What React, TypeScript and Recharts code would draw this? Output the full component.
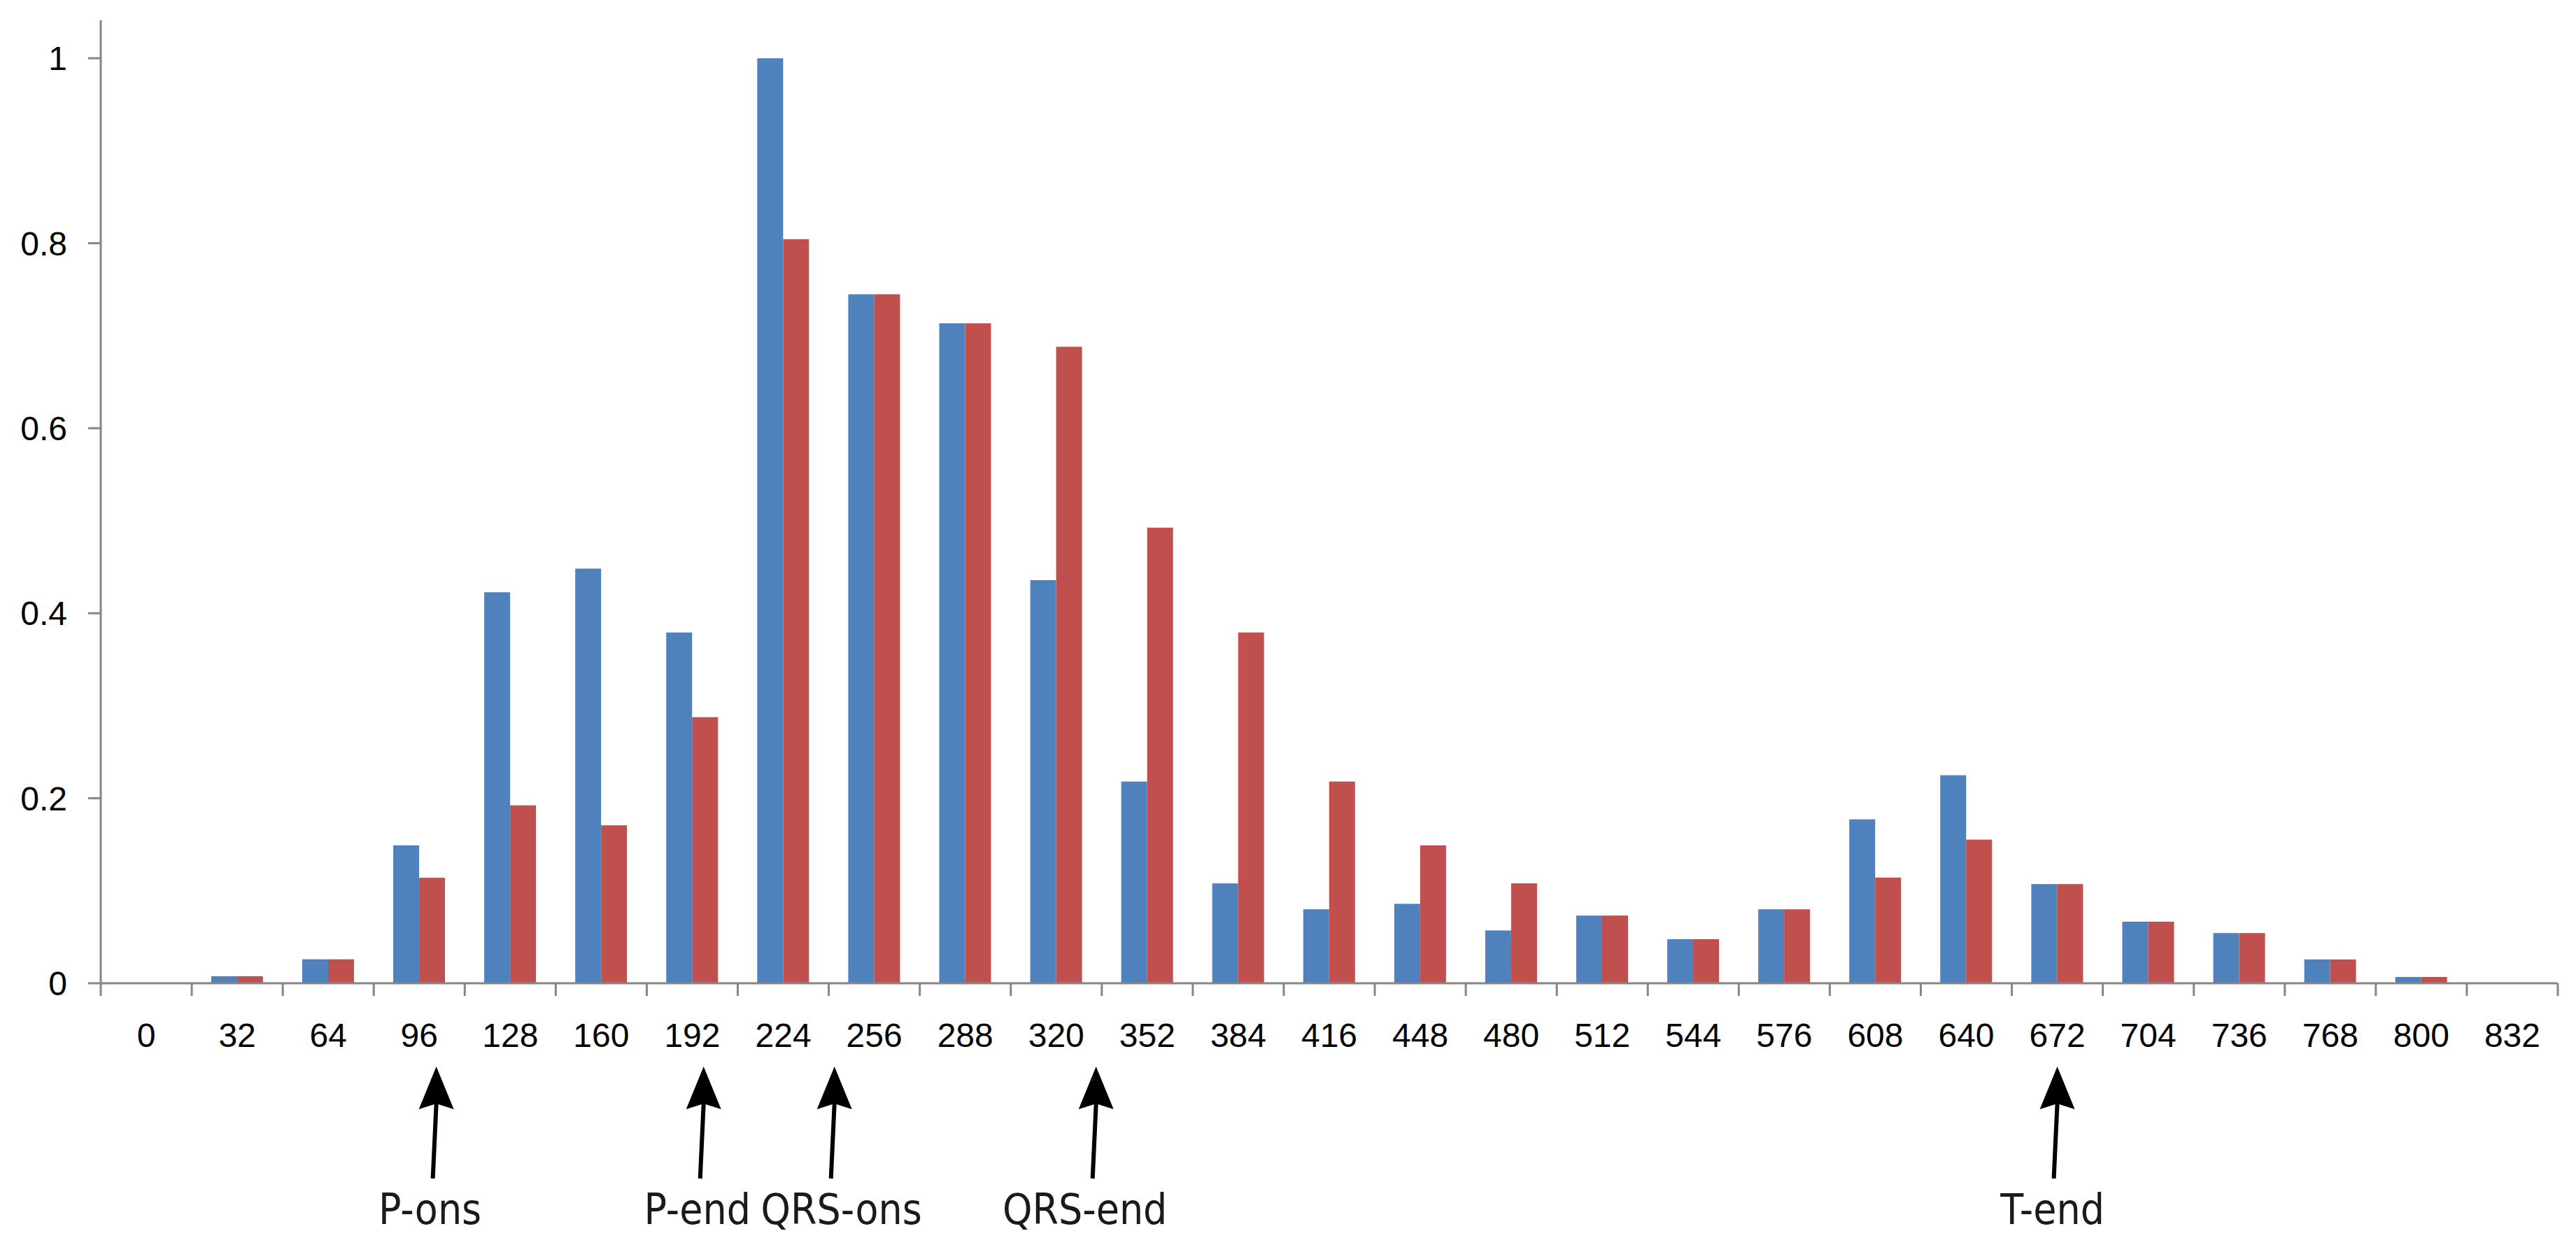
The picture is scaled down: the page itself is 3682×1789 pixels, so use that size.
import React from 'react';
import { BarChart, Bar, XAxis, YAxis, ReferenceDot } from 'recharts';

// ---- data ----
const CATEGORIES = [0, 32, 64, 96, 128, 160, 192, 224, 256, 288, 320, 352, 384, 416, 448, 480, 512, 544, 576, 608, 640, 672, 704, 736, 768, 800, 832];
const SERIES_BLUE = [0, 0.0075, 0.026, 0.149, 0.4227, 0.4483, 0.3793, 1.0, 0.7448, 0.7135, 0.4357, 0.218, 0.108, 0.08, 0.0858, 0.0572, 0.0732, 0.0477, 0.08, 0.1773, 0.2248, 0.1072, 0.0666, 0.0542, 0.0257, 0.0068, 0];
const SERIES_RED = [0, 0.0075, 0.026, 0.114, 0.1924, 0.1707, 0.2877, 0.8043, 0.7448, 0.7135, 0.6881, 0.4926, 0.3792, 0.218, 0.149, 0.108, 0.0732, 0.0477, 0.08, 0.1142, 0.1552, 0.1072, 0.0666, 0.0542, 0.0257, 0.0068, 0];
const Y_TICKS = [0, 0.2, 0.4, 0.6, 0.8, 1];
const MARKER_LABELS = ['P-ons', 'P-end', 'QRS-ons', 'QRS-end', 'T-end'];
const MARKER_MS = [102, 196, 242, 334, 672];

// ---- layout & styles ----
const CHART_W = 3682;
const CHART_H = 1789;
const Y_AXIS_W = 144;
const MARGIN = { top: 29, right: 26, left: 0, bottom: 383 };
const BAND = (CHART_W - Y_AXIS_W - MARGIN.right - MARGIN.left) / CATEGORIES.length;
const STEP = CATEGORIES[1] - CATEGORIES[0];
const BLUE = '#4F81BD';
const RED = '#C0504D';
const AXIS = '#868686';
const TICK_FONT = "'Liberation Sans', Arial, sans-serif";
const NOTE_FONT = "'Liberation Sans Narrow', 'Arial Narrow', 'DejaVu Sans Condensed', sans-serif";
const MARKER_LABEL_DX = [-9, -9, 10, -16, -7];

const data = CATEGORIES.map((c, i) => ({ ms: String(c), blue: SERIES_BLUE[i], red: SERIES_RED[i] }));

const XTick = (props: any) => {
  const { x, y, payload, index } = props;
  const half = BAND / 2;
  const last = index === CATEGORIES.length - 1;
  return (
    <g>
      <line x1={x - half} y1={y} x2={x - half} y2={y + 18} stroke={AXIS} strokeWidth={3} />
      {last && <line x1={x + half} y1={y} x2={x + half} y2={y + 18} stroke={AXIS} strokeWidth={3} />}
      <text x={x} y={y + 91} textAnchor="middle" fontSize={48} fontFamily={TICK_FONT} fill="#000">
        {payload.value}
      </text>
    </g>
  );
};

const YTick = (props: any) => {
  const { x, y, payload } = props;
  return (
    <text x={x} y={y + 17} textAnchor="end" fontSize={48} fontFamily={TICK_FONT} fill="#000">
      {String(payload.value)}
    </text>
  );
};

const makeArrow = (label: string, frac: number, dx: number) => (props: any) => {
  const { cx: c0, cy } = props;
  if (c0 == null || cy == null) return <g />;
  const cx = c0 + frac * BAND;
  return (
    <g>
      <polygon
        points={`${cx},${cy + 119} ${cx - 25},${cy + 180} ${cx},${cy + 172} ${cx + 25},${cy + 180}`}
        fill="#000"
      />
      <line x1={cx} y1={cy + 172} x2={cx - 5} y2={cy + 279} stroke="#000" strokeWidth={6} />
      <text x={cx + dx} y={cy + 344} textAnchor="middle" fontSize={60} fontFamily={NOTE_FONT} fill="#1a1a1a">
        {label}
      </text>
    </g>
  );
};

export default function App() {
  return (
    <div style={{ position: 'absolute', left: 0, top: 0, width: CHART_W, height: CHART_H, background: '#fff' }}>
      <BarChart width={CHART_W} height={CHART_H} data={data} margin={MARGIN} barCategoryGap="21.4%" barGap={0}>
        <XAxis
          dataKey="ms"
          height={1}
          tickLine={false}
          tickSize={0}
          tickMargin={0}
          axisLine={{ stroke: AXIS, strokeWidth: 3 }}
          tick={<XTick />}
          interval={0}
        />
        <YAxis
          width={Y_AXIS_W}
          domain={[0, 1.041]}
          ticks={Y_TICKS}
          allowDataOverflow
          interval={0}
          tickSize={18}
          tickMargin={30}
          tickLine={{ stroke: AXIS, strokeWidth: 3 }}
          axisLine={{ stroke: AXIS, strokeWidth: 3 }}
          tick={<YTick />}
        />
        <Bar dataKey="blue" fill={BLUE} isAnimationActive={false} />
        <Bar dataKey="red" fill={RED} isAnimationActive={false} />
        {MARKER_MS.map((ms, i) => {
          const idx = Math.round(ms / STEP);
          const frac = ms / STEP - idx;
          return (
            <ReferenceDot
              key={MARKER_LABELS[i]}
              x={String(CATEGORIES[idx])}
              y={0}
              r={0}
              ifOverflow="visible"
              shape={makeArrow(MARKER_LABELS[i], frac, MARKER_LABEL_DX[i])}
            />
          );
        })}
      </BarChart>
    </div>
  );
}
